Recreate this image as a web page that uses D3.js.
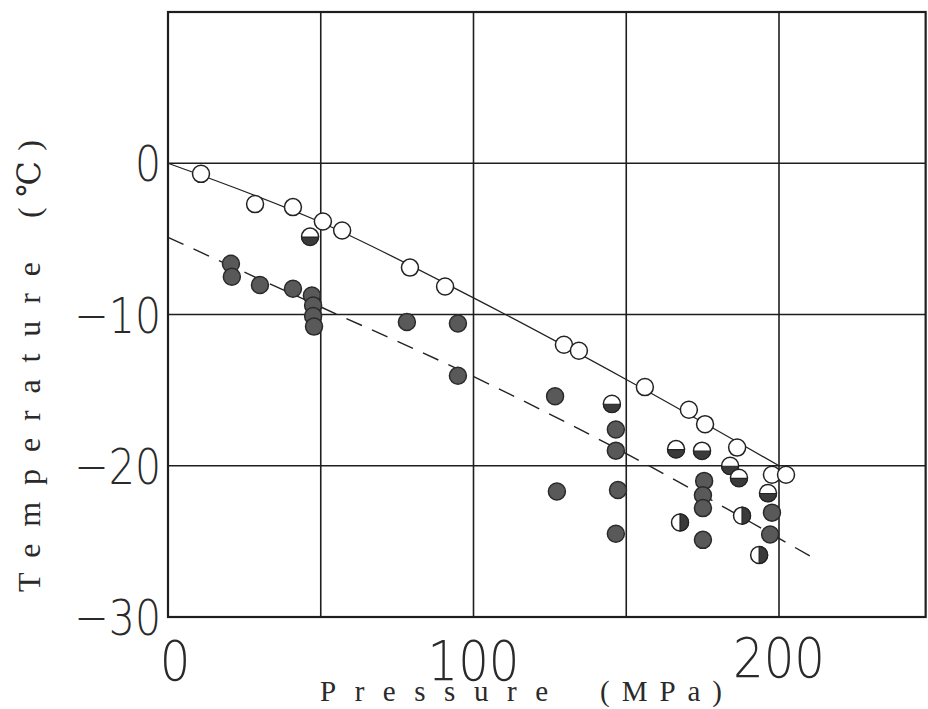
<!DOCTYPE html>
<html>
<head>
<meta charset="utf-8">
<script src="https://cdn.jsdelivr.net/npm/d3@7"></script>
<style>
  body { margin: 0; background: #fff; }
  svg { display: block; }
</style>
</head>
<body>
<svg id="chart"></svg>
<script>
const openPoints = [
  [10.8, -0.7], [28.5, -2.7], [40.9, -2.9], [50.7, -3.85], [57, -4.45],
  [79.2, -6.9], [90.7, -8.15], [129.6, -12.0], [134.5, -12.4], [156.1, -14.8],
  [170.5, -16.3], [175.8, -17.25], [186.3, -18.8], [197.7, -20.6], [202.3, -20.6]
]
const bottomHalfPoints = [
  [46.5, -4.85], [145.3, -15.9], [166.3, -18.9], [174.8, -19.0],
  [184, -20.0], [186.9, -20.8], [196.4, -21.8]
]
const rightHalfPoints = [
  [167.6, -23.75], [187.9, -23.3], [193.5, -25.9]
]
const filledPoints = [
  [20.6, -6.65], [20.9, -7.5], [30.1, -8.05], [40.9, -8.3],
  [47.1, -8.75], [47.5, -9.4], [47.5, -10.1], [47.8, -10.8],
  [78.2, -10.5], [94.9, -10.6], [94.9, -14.05], [126.7, -15.4], [127.3, -21.7],
  [146.6, -17.6], [146.6, -19.0], [147.3, -21.6], [146.6, -24.5],
  [175.5, -21.0], [175.1, -21.95], [175.1, -22.8], [175.1, -24.9],
  [197.7, -23.1], [197.1, -24.55]
]
/* the two drawn curves */
const solidLine = [[0, 0], [50, -3.9], [100, -8.9], [150, -14.3], [200, -20]]
const dashedLine = [[0, -4.9], [50, -9.5], [100, -14.1], [150, -19.2], [213, -26.3]]

/* ticks */
const xGrid = [50, 100, 150, 200]
const yGrid = [0, -10, -20]
const xTickLabels = [0, 100, 200]
const yTickLabels = [0, -10, -20, -30]

const width = 928, height = 709
const r = 8.5

const svg = d3.select('#chart').attr('width', width).attr('height', height)

const x = d3.scaleLinear().domain([0, 250]).range([168, 931.75])
const y = d3.scaleLinear().domain([-30, 10]).range([617, 12])

const ink = '#1e1e1e'
const xRight = x(248) /* the right edge of the frame is a bit short of 250 */

/* grid */
svg.append('g').selectAll('line').data(xGrid).enter().append('line')
   .attr('x1', d => x(d)).attr('x2', d => x(d))
   .attr('y1', y(10)).attr('y2', y(-30))
   .attr('stroke', ink).attr('stroke-width', 1.6)

svg.append('g').selectAll('line').data(yGrid).enter().append('line')
   .attr('x1', x(0)).attr('x2', xRight)
   .attr('y1', d => y(d)).attr('y2', d => y(d))
   .attr('stroke', ink).attr('stroke-width', 1.6)

/* frame */
svg.append('rect')
   .attr('x', x(0)).attr('y', y(10))
   .attr('width', xRight - x(0)).attr('height', y(-30) - y(10))
   .attr('fill', 'none').attr('stroke', ink).attr('stroke-width', 2.2)

/* lines */
const line = d3.line().x(d => x(d[0])).y(d => y(d[1])).curve(d3.curveMonotoneX)

svg.append('path').attr('d', line(solidLine))
   .attr('fill', 'none').attr('stroke', '#222').attr('stroke-width', 1.3)

svg.append('path').attr('d', line(dashedLine))
   .attr('fill', 'none').attr('stroke', '#222').attr('stroke-width', 1.4)
   .attr('stroke-dasharray', '17,11')

/* markers */
const markers = svg.append('g')

markers.selectAll('circle.filled').data(filledPoints).enter().append('circle')
   .attr('class', 'filled')
   .attr('cx', d => x(d[0])).attr('cy', d => y(d[1])).attr('r', r)
   .attr('fill', '#595959').attr('stroke', '#2a2a2a').attr('stroke-width', 1.5)

const halfMarker = (data, cls, halfPath) => {
  const g = markers.selectAll('g.' + cls).data(data).enter().append('g')
     .attr('class', cls)
     .attr('transform', d => `translate(${x(d[0])},${y(d[1])})`)
  g.append('circle').attr('r', r)
   .attr('fill', '#fff').attr('stroke', '#222').attr('stroke-width', 1.5)
  g.append('path').attr('d', halfPath)
   .attr('fill', '#3a3a3a').attr('stroke', '#222').attr('stroke-width', 1.2)
}
halfMarker(bottomHalfPoints, 'bottomhalf', `M${-r},0.5 A${r},${r} 0 0 0 ${r},0.5 Z`)
halfMarker(rightHalfPoints, 'righthalf', `M0,${-r} A${r},${r} 0 0 1 0,${r} Z`)

markers.selectAll('circle.open').data(openPoints).enter().append('circle')
   .attr('class', 'open')
   .attr('cx', d => x(d[0])).attr('cy', d => y(d[1])).attr('r', r)
   .attr('fill', '#fff').attr('stroke', '#222').attr('stroke-width', 1.5)

/* tick labels : thin and narrow, squeezed with textLength */
const numFont = '"DejaVu Sans", sans-serif'
const fmt = d => d < 0 ? '\u2212' + Math.abs(d) : String(d)

const condense = (sel, k) => {
  sel.each(function () {
    const len = this.getComputedTextLength()
    d3.select(this).attr('textLength', len * k).attr('lengthAdjust', 'spacingAndGlyphs')
  })
}

svg.append('g').selectAll('text').data(yTickLabels).enter().append('text')
   .attr('x', 161).attr('y', d => y(d) + 18)
   .attr('text-anchor', 'end')
   .attr('font-family', numFont).attr('font-weight', 200).attr('font-size', 50)
   .attr('fill', '#2a2a2a')
   .text(fmt)
   .call(condense, 0.82)

svg.append('g').selectAll('text').data(xTickLabels).enter().append('text')
   .attr('x', d => x(d) + (d === 0 ? 7 : 0)).attr('y', d => d === 200 ? 677 : 680)
   .attr('text-anchor', 'middle')
   .attr('font-family', numFont).attr('font-weight', 200).attr('font-size', 56)
   .attr('fill', '#2a2a2a')
   .text(fmt)
   .call(condense, 0.86)

/* axis titles */
const titleFont = '"Liberation Serif", "DejaVu Serif", serif'

svg.append('text')
   .attr('transform', 'translate(40,592) rotate(-90)')
   .attr('font-family', titleFont).attr('font-size', 32)
   .attr('textLength', 330).attr('lengthAdjust', 'spacing')
   .attr('fill', '#2a2a2a')
   .text('Temperature')

svg.append('text')
   .attr('transform', 'translate(40,218) rotate(-90)')
   .attr('font-family', titleFont).attr('font-size', 32)
   .attr('textLength', 78).attr('lengthAdjust', 'spacing')
   .attr('fill', '#2a2a2a')
   .text('(℃)')

svg.append('text')
   .attr('x', 320).attr('y', 701)
   .attr('font-family', titleFont).attr('font-size', 29)
   .attr('textLength', 228).attr('lengthAdjust', 'spacing')
   .attr('fill', '#2a2a2a')
   .text('Pressure')

svg.append('text')
   .attr('x', 600).attr('y', 701)
   .attr('font-family', titleFont).attr('font-size', 29)
   .attr('textLength', 122).attr('lengthAdjust', 'spacing')
   .attr('fill', '#2a2a2a')
   .text('(MPa)')
</script>
</body>
</html>
